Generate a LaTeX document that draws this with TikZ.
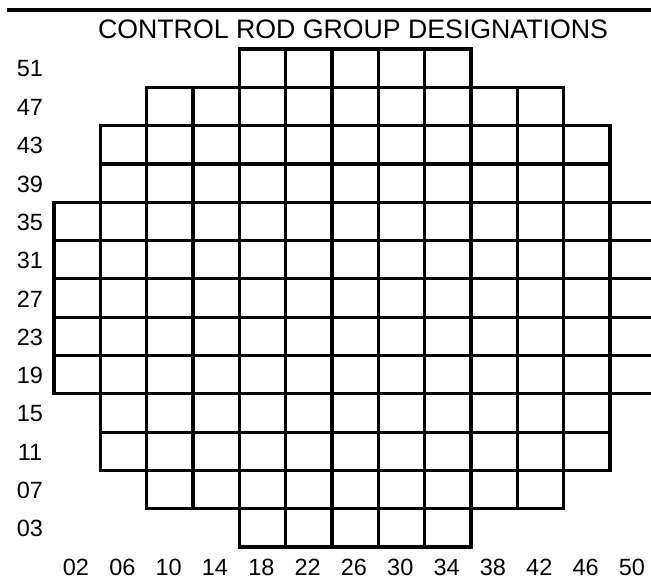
\documentclass[tikz,border=0pt]{standalone}
\usepackage{fontspec}
\setmainfont{Liberation Sans}
\usetikzlibrary{positioning}
\tikzset{
    rodcell/.style={
        draw=black,
        line width=3.2pt
    },
    headrule/.style={
        draw=black,
        line width=3.2pt
    },
    gridtitle/.style={
        inner sep=0pt,
        font=\fontsize{26.7}{30}\selectfont
    },
    rowlabel/.style={
        inner sep=0pt,
        font=\fontsize{23.5}{27}\selectfont
    },
    collabel/.style={
        inner sep=0pt,
        font=\fontsize{23.5}{27}\selectfont
    }
}

\begin{document}
\begin{tikzpicture}[x=1pt,y=-1pt]
        \clip (0,0) rectangle (651,583);
        \fill[white] (0,0) rectangle (651,583);

        \coordinate (rulestart) at (7,10);
        \coordinate (ruleend) at (651,10);
        \draw[headrule] (rulestart) -- (ruleend);

        \node[gridtitle] (title) at (353,29)
            {CONTROL ROD GROUP DESIGNATIONS};

        \foreach \r/\a/\b in {0/4/8,1/2/10,2/1/11,3/1/11,4/0/12,5/0/12,6/0/12,
                              7/0/12,8/0/12,9/1/11,10/1/11,11/2/10,12/4/8}
            \foreach \c in {\a,...,\b}
                \draw[rodcell] (54+46.33*\c,49+38.31*\r)
                    rectangle ++(46.33,38.31);

        \foreach \lbl [count=\r from 0] in {51,47,43,39,35,31,27,23,19,15,11,07,03}
            \node[rowlabel] (row-\lbl) at (30,49+38.31*\r+20) {\lbl};

        \foreach \lbl [count=\c from 0] in {02,06,10,14,18,22,26,30,34,38,42,46,50}
            \node[collabel] (col-\lbl) at (54+46.33*\c+22,567) {\lbl};
    \end{tikzpicture}
\end{document}
